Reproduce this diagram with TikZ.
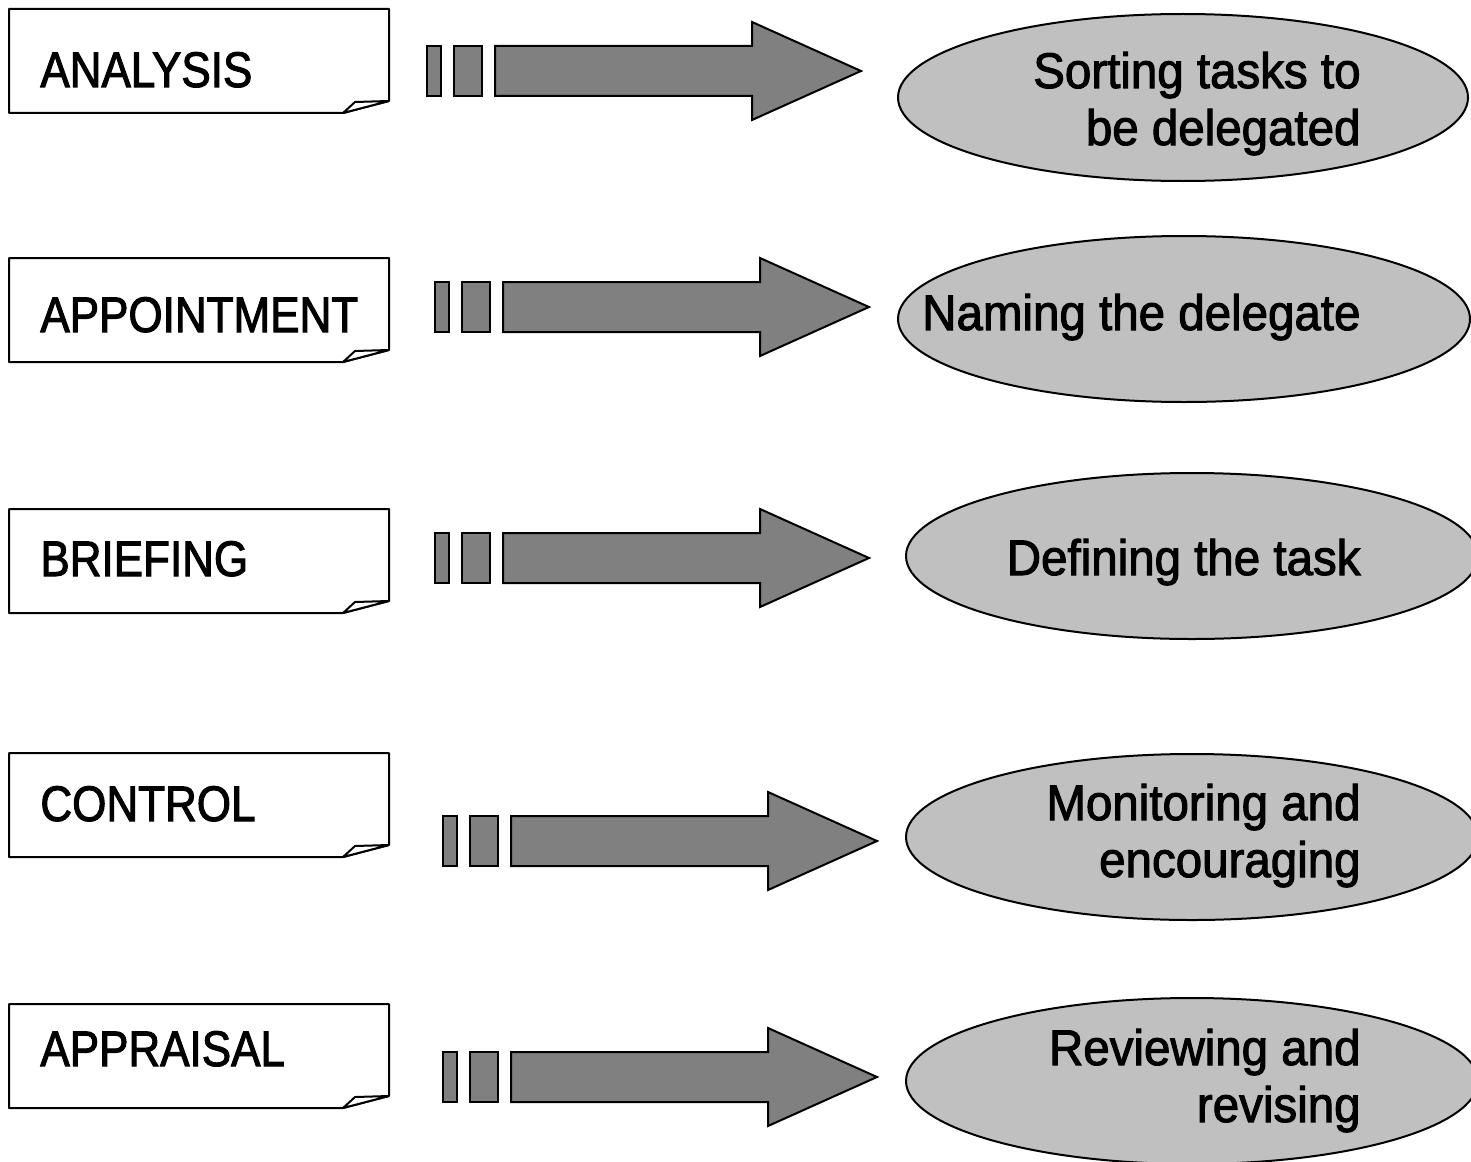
\documentclass[tikz,border=0pt]{standalone}
\usepackage{fontspec}
\usetikzlibrary{shapes.geometric}
\newfontfamily\labelfont[FakeStretch=0.88, FakeBold=2]{Liberation Sans}
\newfontfamily\ovalfont[FakeStretch=0.95, FakeBold=2]{Liberation Sans}
\definecolor{arrowgray}{HTML}{808080}
\definecolor{ovalgray}{HTML}{C0C0C0}
\tikzset{
  note/.style={draw=black, line width=1pt, fill=white, line join=bevel},
  bar/.style={draw=black, line width=1pt, fill=arrowgray, line join=miter},
  oval/.style={ellipse, draw=black, line width=1pt, fill=ovalgray, inner sep=0pt},
  boxlabel/.style={anchor=base west, inner sep=0pt, font=\labelfont\fontsize{25}{28}\selectfont},
  ovallabel/.style={anchor=base east, inner sep=0pt, align=right, font=\ovalfont\fontsize{25}{28}\selectfont}
}
% note card with a curled lower-right corner; #1 = name, #2 = top edge
\newcommand\notecard[2]{%
  \draw[note] (9,#2) -- (389,#2) -- (389,#2+92) -- (343,#2+104) -- (9,#2+104) -- cycle;
  \draw[note] (343,#2+104) -- (355,#2+93) -- (389,#2+92) -- cycle;
  \coordinate (#1) at (199,#2+52);
}
% striped block arrow; #1 = left edge, #2 = vertical centre
\newcommand\blockarrow[2]{%
  \draw[bar] (#1,#2-25) rectangle (#1+14,#2+25);
  \draw[bar] (#1+27,#2-25) rectangle (#1+55,#2+25);
  \draw[bar] (#1+68,#2-25) -- (#1+325,#2-25) -- (#1+325,#2-49) -- (#1+434,#2)
    -- (#1+325,#2+49) -- (#1+325,#2+25) -- (#1+68,#2+25) -- cycle;
}
\begin{document}
\begin{tikzpicture}[x=0.5pt, y=-0.5pt]
\useasboundingbox (0,0) rectangle (1471,1161);
\clip (0,0) rectangle (1471,1161);

% left column: stage cards
\notecard{c1}{9}
\notecard{c2}{258}
\notecard{c3}{509}
\notecard{c4}{753}
\notecard{c5}{1004}
\node[boxlabel] (l1) at (40,87) {ANALYSIS};
\node[boxlabel] (l2) at (40,332) {APPOINTMENT};
\node[boxlabel] (l3) at (40,576) {BRIEFING};
\node[boxlabel] (l4) at (40,821) {CONTROL};
\node[boxlabel] (l5) at (40,1066) {APPRAISAL};

% middle column: arrows
\blockarrow{427}{71}
\blockarrow{435}{307}
\blockarrow{435}{558}
\blockarrow{443}{841}
\blockarrow{443}{1077}

% right column: ovals with descriptions
\node[oval, minimum width=285pt, minimum height=83.5pt] (e1) at (1183,97.5) {};
\node[oval, minimum width=286pt, minimum height=83pt] (e2) at (1184,319) {};
\node[oval, minimum width=286pt, minimum height=83pt] (e3) at (1192,556) {};
\node[oval, minimum width=286pt, minimum height=83pt] (e4) at (1192,837) {};
\node[oval, minimum width=286pt, minimum height=83pt] (e5) at (1192,1081) {};

\node[ovallabel] (t1a) at (1361,88) {Sorting tasks to};
\node[ovallabel] (t1b) at (1361,145) {be delegated};
\node[ovallabel] (t2) at (1361,330) {Naming the delegate};
\node[ovallabel] (t3) at (1361,575) {Defining the task};
\node[ovallabel] (t4a) at (1361,820) {Monitoring and};
\node[ovallabel] (t4b) at (1361,877) {encouraging};
\node[ovallabel] (t5a) at (1361,1065) {Reviewing and};
\node[ovallabel] (t5b) at (1361,1122) {revising};
\end{tikzpicture}
\end{document}
